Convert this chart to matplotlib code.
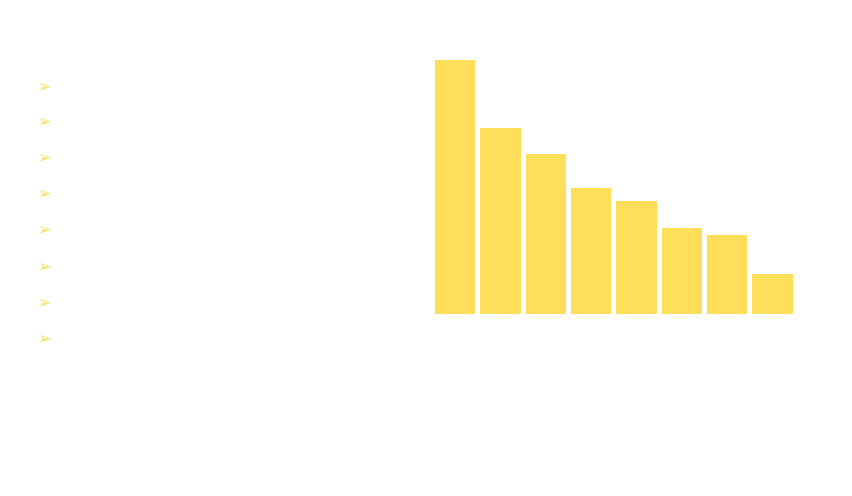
import matplotlib
matplotlib.use("Agg")
import matplotlib.pyplot as plt

categories = ["A", "B", "C", "D", "E", "F", "G", "H"]
values = [254, 186, 160, 126, 113, 86, 79, 40]
bullet_rows = 8
color = "#FFDE59"

fig = plt.figure(figsize=(8.52, 4.96), dpi=100)
fig.patch.set_facecolor("white")

slot = 362.6 / 852
ax = fig.add_axes([432.5 / 852, (496 - 314) / 496, slot, 254 / 496])
ax.bar(range(len(categories)), values, width=0.89, color=color)
ax.set_xlim(-0.5, len(categories) - 0.5)
ax.set_ylim(0, max(values))
ax.axis("off")

ys = [87, 122, 158, 194, 230, 267, 303, 339]
for y in ys[:bullet_rows]:
    fig.text(44 / 852, 1 - y / 496, "➢", color=color, fontsize=12,
             ha="center", va="center", family="DejaVu Sans")

fig.savefig("out.png", dpi=100, facecolor="white")
